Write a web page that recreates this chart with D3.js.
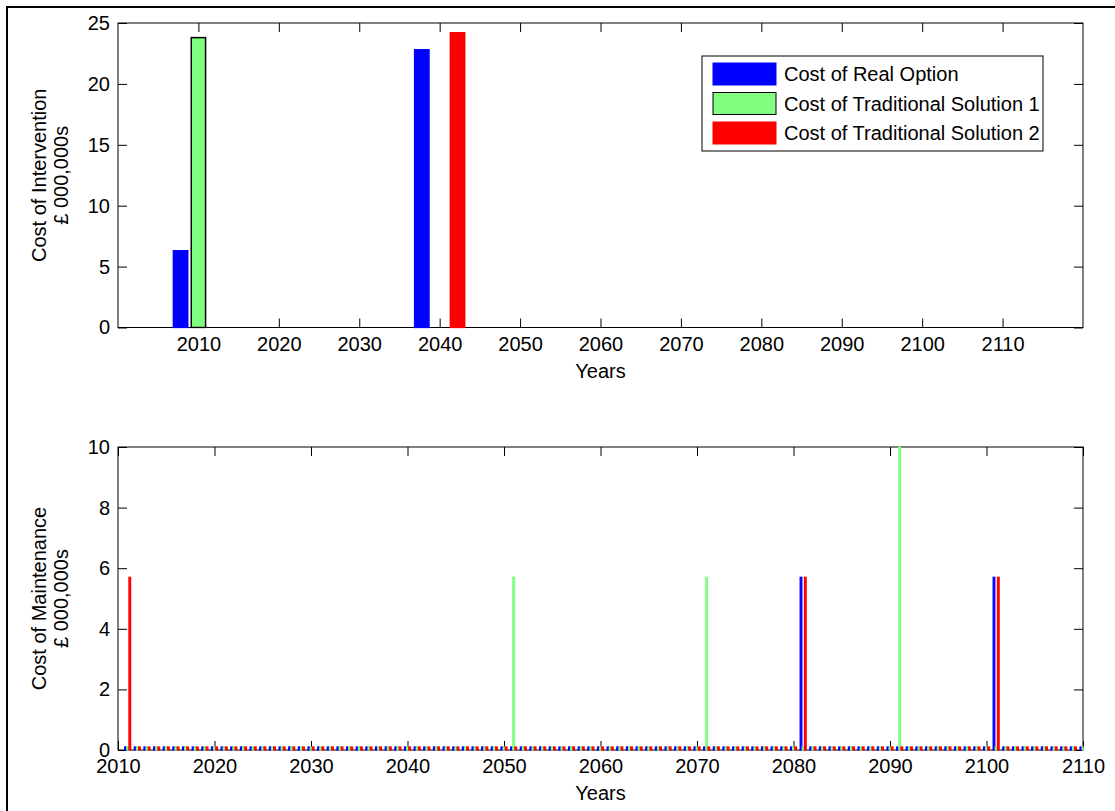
<!DOCTYPE html>
<html>
<head>
<meta charset="utf-8">
<script src="https://cdn.jsdelivr.net/npm/d3@7"></script>
<style>
    body { margin: 0; background: #fff; overflow: hidden; }
    svg { display: block; font-family: "Liberation Sans", Arial, sans-serif; }
</style>
</head>
<body>
<svg id="chart" width="1115" height="811"></svg>
<script>
// --- intervention costs, one group every 10 years ---
const interventionYears = [2010, 2020, 2030, 2040, 2050, 2060, 2070, 2080, 2090, 2100, 2110];
const interventionRealOption = [6.3, 0, 0, 22.8, 0, 0, 0, 0, 0, 0, 0];
const interventionTrad1 = [23.8, 0, 0, 0, 0, 0, 0, 0, 0, 0, 0];
const interventionTrad2 = [0, 0, 0, 24.2, 0, 0, 0, 0, 0, 0, 0];

// --- maintenance costs, one group per year 2011..2110 ---
const maintenanceYears = d3.range(2011, 2111);
const maintenanceRealOption = [
    0.1, 0.1, 0.1, 0.1, 0.1, 0.1, 0.1, 0.1, 0.1, 0.1,
    0.1, 0.1, 0.1, 0.1, 0.1, 0.1, 0.1, 0.1, 0.1, 0.1,
    0.1, 0.1, 0.1, 0.1, 0.1, 0.1, 0.1, 0.1, 0.1, 0.1,
    0.1, 0.1, 0.1, 0.1, 0.1, 0.1, 0.1, 0.1, 0.1, 0.1,
    0.1, 0.1, 0.1, 0.1, 0.1, 0.1, 0.1, 0.1, 0.1, 0.1,
    0.1, 0.1, 0.1, 0.1, 0.1, 0.1, 0.1, 0.1, 0.1, 0.1,
    0.1, 0.1, 0.1, 0.1, 0.1, 0.1, 0.1, 0.1, 0.1, 0.1,
    5.7, 0.1, 0.1, 0.1, 0.1, 0.1, 0.1, 0.1, 0.1, 0.1,
    0.1, 0.1, 0.1, 0.1, 0.1, 0.1, 0.1, 0.1, 0.1, 0.1,
    5.7, 0.1, 0.1, 0.1, 0.1, 0.1, 0.1, 0.1, 0.1, 0.1
];
const maintenanceTrad1 = [
    0.1, 0.1, 0.1, 0.1, 0.1, 0.1, 0.1, 0.1, 0.1, 0.1,
    0.1, 0.1, 0.1, 0.1, 0.1, 0.1, 0.1, 0.1, 0.1, 0.1,
    0.1, 0.1, 0.1, 0.1, 0.1, 0.1, 0.1, 0.1, 0.1, 0.1,
    0.1, 0.1, 0.1, 0.1, 0.1, 0.1, 0.1, 0.1, 0.1, 0.1,
    5.7, 0.1, 0.1, 0.1, 0.1, 0.1, 0.1, 0.1, 0.1, 0.1,
    0.1, 0.1, 0.1, 0.1, 0.1, 0.1, 0.1, 0.1, 0.1, 0.1,
    5.7, 0.1, 0.1, 0.1, 0.1, 0.1, 0.1, 0.1, 0.1, 0.1,
    0.1, 0.1, 0.1, 0.1, 0.1, 0.1, 0.1, 0.1, 0.1, 0.1,
    10, 0.1, 0.1, 0.1, 0.1, 0.1, 0.1, 0.1, 0.1, 0.1,
    0.1, 0.1, 0.1, 0.1, 0.1, 0.1, 0.1, 0.1, 0.1, 0.1
];
const maintenanceTrad2 = [
    5.7, 0.1, 0.1, 0.1, 0.1, 0.1, 0.1, 0.1, 0.1, 0.1,
    0.1, 0.1, 0.1, 0.1, 0.1, 0.1, 0.1, 0.1, 0.1, 0.1,
    0.1, 0.1, 0.1, 0.1, 0.1, 0.1, 0.1, 0.1, 0.1, 0.1,
    0.1, 0.1, 0.1, 0.1, 0.1, 0.1, 0.1, 0.1, 0.1, 0.1,
    0.1, 0.1, 0.1, 0.1, 0.1, 0.1, 0.1, 0.1, 0.1, 0.1,
    0.1, 0.1, 0.1, 0.1, 0.1, 0.1, 0.1, 0.1, 0.1, 0.1,
    0.1, 0.1, 0.1, 0.1, 0.1, 0.1, 0.1, 0.1, 0.1, 0.1,
    5.7, 0.1, 0.1, 0.1, 0.1, 0.1, 0.1, 0.1, 0.1, 0.1,
    0.1, 0.1, 0.1, 0.1, 0.1, 0.1, 0.1, 0.1, 0.1, 0.1,
    5.7, 0.1, 0.1, 0.1, 0.1, 0.1, 0.1, 0.1, 0.1, 0.1
];

const seriesNames = ["Cost of Real Option", "Cost of Traditional Solution 1", "Cost of Traditional Solution 2"];
const seriesColors = ["#0000ff", "#80ff80", "#ff0000"];

const svg = d3.select("#chart");
const left = 118, right = 1083, tickLen = 9;

// outer figure frame (cropped on the right and bottom)
svg.append("rect")
    .attr("x", 7).attr("y", 7)
    .attr("width", 1200).attr("height", 900)
    .attr("fill", "none").attr("stroke", "#000").attr("stroke-width", 2);

function drawPanel(opt) {
    const g = svg.append("g");
    const x = d3.scaleLinear().domain(opt.xDomain).range([left, right]);
    const y = d3.scaleLinear().domain(opt.yDomain).range([opt.bottom, opt.top]);

    const axisStyle = sel => {
        sel.selectAll("path").remove();
        sel.selectAll("line").attr("stroke", "#000");
        sel.selectAll("text").attr("font-size", 20).attr("fill", "#000")
            .attr("font-family", "Liberation Sans, Arial, sans-serif");
    };

    // axes with inward ticks on all four sides
    g.append("g").attr("transform", `translate(0,${opt.bottom})`)
        .call(d3.axisBottom(x).tickValues(opt.xTicks).tickFormat(d3.format("d"))
            .tickSizeInner(-tickLen).tickSizeOuter(0).tickPadding(9))
        .call(axisStyle);
    g.append("g").attr("transform", `translate(0,${opt.top})`)
        .call(d3.axisTop(x).tickValues(opt.xTicks).tickFormat("")
            .tickSizeInner(-tickLen).tickSizeOuter(0))
        .call(axisStyle);
    g.append("g").attr("transform", `translate(${left},0)`)
        .call(d3.axisLeft(y).tickValues(opt.yTicks).tickFormat(d3.format("d"))
            .tickSizeInner(-tickLen).tickSizeOuter(0).tickPadding(8))
        .call(axisStyle);
    g.append("g").attr("transform", `translate(${right},0)`)
        .call(d3.axisRight(y).tickValues(opt.yTicks).tickFormat("")
            .tickSizeInner(-tickLen).tickSizeOuter(0))
        .call(axisStyle);

    g.append("rect")
        .attr("x", left).attr("y", opt.top)
        .attr("width", right - left).attr("height", opt.bottom - opt.top)
        .attr("fill", "none").attr("stroke", "#000").attr("stroke-width", 1);

    // bars on top of the axes, so zero-height bars still show along the baseline
    const clipId = "clip" + opt.top;
    g.append("clipPath").attr("id", clipId).append("rect")
        .attr("x", left).attr("y", opt.top - 1)
        .attr("width", right - left + 1).attr("height", opt.bottom - opt.top + 2);
    const bars = g.append("g").attr("clip-path", `url(#${clipId})`);
    opt.series.forEach((vals, si) => {
        bars.selectAll(null)
            .data(vals.map((v, i) => ({ year: opt.years[i], value: v })))
            .enter().append("rect")
            .attr("x", d => x(d.year + opt.offsets[si] - opt.barW / 2))
            .attr("width", d => x(d.year + opt.barW) - x(d.year))
            .attr("y", d => y(d.value))
            .attr("height", d => y(0) - y(d.value))
            .attr("fill", seriesColors[si])
            .attr("stroke", opt.edges[si])
            .attr("stroke-width", opt.edgeW);
    });

    // axis titles
    g.append("text")
        .attr("x", (left + right) / 2).attr("y", opt.bottom + 50)
        .attr("text-anchor", "middle").attr("font-size", 20)
        .text("Years");
    const cy = (opt.top + opt.bottom) / 2;
    opt.yLabel.forEach((line, i) => {
        g.append("text")
            .attr("transform", `translate(${46 + i * 22},${cy}) rotate(-90)`)
            .attr("text-anchor", "middle").attr("font-size", 20)
            .text(line);
    });
    return g;
}

drawPanel({
    top: 23, bottom: 327.5,
    xDomain: [2000, 2120], yDomain: [0, 25],
    xTicks: interventionYears, yTicks: [0, 5, 10, 15, 20, 25],
    years: interventionYears,
    series: [interventionRealOption, interventionTrad1, interventionTrad2],
    offsets: [-2.22, 0, 2.22], barW: 1.78,
    edges: ["#0000ff", "#000", "#ff0000"], edgeW: 1.5,
    yLabel: ["Cost of Intervention", "£ 000,000s"]
});

drawPanel({
    top: 447, bottom: 750,
    xDomain: [2010, 2110], yDomain: [0, 10],
    xTicks: d3.range(2010, 2111, 10), yTicks: [0, 2, 4, 6, 8, 10],
    years: maintenanceYears,
    series: [maintenanceRealOption, maintenanceTrad1, maintenanceTrad2],
    offsets: [-0.222, 0, 0.222], barW: 0.178,
    edges: seriesColors, edgeW: 1.2,
    yLabel: ["Cost of Maintenance", "£ 000,000s"]
});

// legend
const legend = svg.append("g");
legend.append("rect")
    .attr("x", 702).attr("y", 56).attr("width", 341).attr("height", 95)
    .attr("fill", "#fff").attr("stroke", "#000").attr("stroke-width", 1);
seriesNames.forEach((name, i) => {
    const rowY = 74 + i * 29.5;
    legend.append("rect")
        .attr("x", 713).attr("y", rowY - 11)
        .attr("width", 63).attr("height", 22)
        .attr("fill", seriesColors[i])
        .attr("stroke", i === 1 ? "#000" : seriesColors[i]).attr("stroke-width", 1);
    legend.append("text")
        .attr("x", 784).attr("y", rowY + 7)
        .attr("font-size", 20)
        .text(name);
});
</script>
</body>
</html>
